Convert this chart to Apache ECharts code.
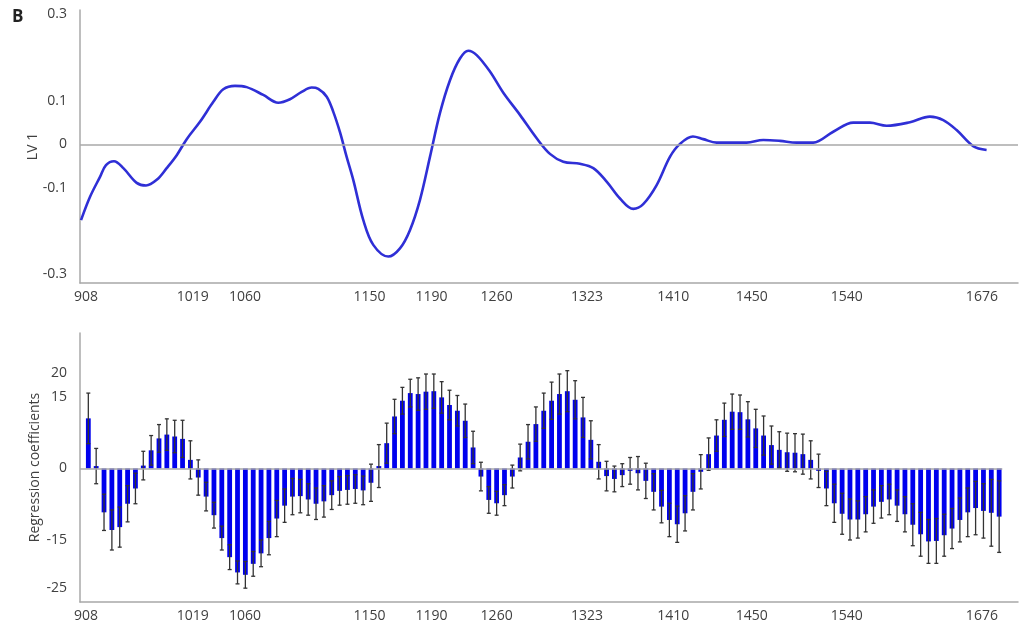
<!DOCTYPE html>
<html>
<head>
<meta charset="utf-8">
<script src="https://cdn.jsdelivr.net/npm/echarts@6/dist/echarts.min.js"></script>
<style>
  html, body { margin: 0; padding: 0; background: #ffffff; }
  #chart { width: 1023px; height: 623px; }
</style>
</head>
<body>
<div id="chart"></div>
<script>
// Variable index axis shared by both panels (one step per selected wavenumber)
const X_MIN = -1.06;
const X_MAX = 118.4;

// Wavenumber tick labels and the variable-index position where each is printed
const xTickLabels = ['908', '1019', '1060', '1150', '1190', '1260', '1323', '1410', '1450', '1540', '1676'];
const xTickPos = [-0.3, 13.3, 19.96, 35.8, 43.7, 52.0, 63.5, 74.5, 84.5, 96.6, 113.8];

// Loading of the first latent variable (LV 1) along the variable index
const lv1Pos = [-0.93, 0.22, 1.49, 2.25, 3.27, 4.46, 6.16, 7.35, 8.71, 9.98,
  11.26, 12.53, 14.22, 15.92, 17.19, 18.68, 20.17, 22.28, 24.19, 25.68,
  27.17, 28.45, 29.29, 30.36, 31.2, 32.05, 32.9, 33.74, 35.02, 36.29,
  38.2, 39.69, 40.96, 42.24, 43.51, 44.78, 46.06, 47.33, 48.39, 49.46,
  51.15, 52.85, 54.97, 57.1, 58.79, 60.49, 62.61, 64.31, 66.01, 67.71,
  69.4, 70.67, 72.38, 74.07, 75.35, 77.0, 78.31, 80.02, 83.84, 85.96,
  88.08, 90.21, 92.32, 94.87, 97.42, 99.54, 101.67, 104.64, 107.18, 108.88,
  110.58, 112.69, 114.4];
const lv1Val = [-0.175, -0.121, -0.075, -0.048, -0.039, -0.055, -0.089, -0.095, -0.082, -0.055,
  -0.025, 0.012, 0.052, 0.098, 0.127, 0.135, 0.132, 0.114, 0.096, 0.104,
  0.121, 0.131, 0.128, 0.110, 0.075, 0.028, -0.029, -0.082, -0.175, -0.232,
  -0.259, -0.240, -0.198, -0.128, -0.029, 0.072, 0.148, 0.198, 0.216, 0.206,
  0.168, 0.119, 0.068, 0.014, -0.022, -0.040, -0.045, -0.055, -0.086, -0.125,
  -0.149, -0.138, -0.094, -0.029, 0.001, 0.018, 0.012, 0.004, 0.004, 0.010,
  0.008, 0.004, 0.004, 0.029, 0.050, 0.050, 0.043, 0.051, 0.064, 0.056,
  0.033, -0.004, -0.013];

// Regression coefficient for each variable and its error-bar half-length
const coef = [10.5, 0.5, -9.2, -12.9, -12.3, -7.4, -4.2, 0.6, 3.8, 6.3,
  7.1, 6.7, 6.2, 1.8, -1.9, -5.9, -9.8, -14.6, -18.6, -21.8,
  -22.3, -20.0, -17.8, -14.6, -10.5, -7.8, -5.9, -5.8, -6.5, -7.4,
  -6.9, -5.6, -4.7, -4.5, -4.3, -4.6, -3.0, 0.5, 5.3, 10.9,
  14.2, 15.8, 15.6, 16.1, 16.2, 14.9, 13.3, 12.1, 10.0, 4.4,
  -1.7, -6.6, -7.3, -5.6, -1.7, 2.3, 5.6, 9.3, 12.1, 14.2,
  15.6, 16.2, 14.4, 10.7, 6.0, 1.4, -1.6, -2.2, -1.4, -0.5,
  -1.0, -2.6, -4.9, -8.0, -10.8, -11.7, -9.4, -4.9, -0.7, 3.0,
  6.9, 10.2, 11.9, 11.8, 10.3, 8.4, 6.9, 4.9, 3.9, 3.4,
  3.3, 3.0, 1.8, -0.5, -4.2, -7.3, -9.5, -10.7, -10.7, -9.6,
  -8.0, -7.0, -6.5, -7.8, -9.6, -11.8, -13.8, -15.3, -15.2, -14.0,
  -12.6, -10.8, -9.2, -8.3, -8.9, -9.3, -10.1];
const coefErr = [5.3, 3.7, 3.8, 4.2, 4.2, 3.8, 3.2, 3.0, 3.1, 2.9,
  3.3, 3.4, 3.9, 4.0, 3.7, 3.0, 2.7, 2.5, 2.6, 2.4,
  2.8, 2.6, 2.8, 3.5, 3.8, 3.5, 3.8, 3.5, 3.3, 3.3,
  3.3, 3.0, 3.0, 3.0, 3.0, 3.0, 3.9, 4.5, 4.2, 3.6,
  2.8, 2.9, 3.4, 3.7, 3.6, 3.3, 3.1, 3.2, 3.5, 3.4,
  3.0, 2.8, 2.5, 2.2, 2.4, 2.8, 3.6, 3.6, 3.7, 3.9,
  4.2, 4.3, 4.0, 4.2, 4.0, 3.6, 3.1, 2.7, 2.4, 2.8,
  3.5, 3.7, 3.8, 3.4, 3.5, 3.8, 3.7, 3.8, 3.6, 3.4,
  3.3, 3.5, 3.7, 3.6, 3.7, 4.0, 4.1, 4.0, 3.8, 4.0,
  4.0, 4.2, 4.0, 3.5, 3.6, 4.0, 4.3, 4.3, 3.9, 3.7,
  3.5, 3.4, 3.2, 3.3, 3.7, 4.4, 4.6, 4.6, 4.7, 4.4,
  4.2, 4.6, 5.1, 5.6, 5.7, 7.0, 7.5];

// Tick labels of the two value axes
const lvTicks = [-0.3, -0.1, 0, 0.1, 0.3];
const coefTicks = [-25, -15, 0, 15, 20];

const FONT = 'Open Sans';
const TEXT = '#404040';
const AXIS = '#a8a8a8';

function xLabel(v) {
  for (let j = 0; j < xTickPos.length; j++) {
    if (Math.abs(xTickPos[j] - v) < 1e-6) return xTickLabels[j];
  }
  return '';
}

function makeXAxis(gridIndex) {
  return {
    type: 'value', gridIndex: gridIndex, min: X_MIN, max: X_MAX,
    axisLine: { show: true, onZero: false, lineStyle: { color: AXIS, width: 1.5 } },
    axisTick: { show: false },
    splitLine: { show: false },
    axisLabel: {
      customValues: xTickPos, formatter: xLabel,
      color: TEXT, fontSize: 14, fontFamily: FONT, margin: 7
    }
  };
}

function makeYAxis(gridIndex, min, max, title, gap, ticks) {
  return {
    type: 'value', gridIndex: gridIndex, min: min, max: max,
    name: title, nameLocation: 'middle', nameGap: gap, nameMoveOverlap: false,
    nameTextStyle: { color: TEXT, fontSize: 14, fontFamily: FONT },
    axisLine: { show: true, onZero: false, lineStyle: { color: AXIS, width: 1.5 } },
    axisTick: { show: false },
    splitLine: { show: false },
    axisLabel: {
      customValues: ticks, formatter: (v) => String(v),
      color: TEXT, fontSize: 14, fontFamily: FONT, margin: 13
    }
  };
}

function renderErrorBar(params, api) {
  const x = api.value(0), v = api.value(1), e = api.value(2);
  const hi = api.coord([x, v + e]);
  const lo = api.coord([x, v - e]);
  const cap = 2;
  const style = { stroke: '#333333', lineWidth: 1.3 };
  return {
    type: 'group',
    children: [
      { type: 'line', shape: { x1: hi[0], y1: hi[1], x2: lo[0], y2: lo[1] }, style: style },
      { type: 'line', shape: { x1: hi[0] - cap, y1: hi[1], x2: hi[0] + cap, y2: hi[1] }, style: style },
      { type: 'line', shape: { x1: lo[0] - cap, y1: lo[1], x2: lo[0] + cap, y2: lo[1] }, style: style }
    ]
  };
}

const chart = echarts.init(document.getElementById('chart'), null, { renderer: 'canvas' });

chart.setOption({
  backgroundColor: '#ffffff',
  animation: false,
  textStyle: { fontFamily: FONT },
  graphic: [{
    type: 'text', left: 12, top: 9,
    style: { text: 'B', fontSize: 17, fontWeight: 'bold', fontFamily: FONT, fill: '#222' }
  }],
  grid: [
    { left: 80, right: 5, top: 10, height: 273 },
    { left: 80, right: 5, top: 333, height: 269 }
  ],
  xAxis: [makeXAxis(0), makeXAxis(1)],
  yAxis: [
    makeYAxis(0, -0.32, 0.31, 'LV 1', 40, lvTicks),
    makeYAxis(1, -28, 28.4, 'Regression coefficients', 38, coefTicks)
  ],
  series: [
    {
      type: 'line', xAxisIndex: 0, yAxisIndex: 0,
      data: lv1Pos.map((p, i) => [p, lv1Val[i]]),
      smooth: 0.35, symbol: 'none',
      lineStyle: { color: '#2f2fd6', width: 2.6 },
      markLine: {
        silent: true, symbol: 'none', animation: false,
        label: { show: false },
        lineStyle: { color: AXIS, width: 1.5, type: 'solid' },
        data: [{ yAxis: 0 }]
      },
      z: 3
    },
    {
      type: 'bar', xAxisIndex: 1, yAxisIndex: 1,
      data: coef.map((v, i) => [i, v]),
      barWidth: 4.8,
      itemStyle: { color: '#0000ee' },
      markLine: {
        silent: true, symbol: 'none', animation: false,
        label: { show: false },
        lineStyle: { color: AXIS, width: 1.5, type: 'solid' },
        data: [[{ coord: [X_MIN, 0] }, { coord: [coef.length - 0.6, 0] }]]
      },
      z: 2
    },
    {
      type: 'custom', xAxisIndex: 1, yAxisIndex: 1,
      renderItem: renderErrorBar,
      encode: { x: 0, y: 1 },
      data: coef.map((v, i) => [i, v, coefErr[i]]),
      z: 4
    }
  ]
});
</script>
</body>
</html>
